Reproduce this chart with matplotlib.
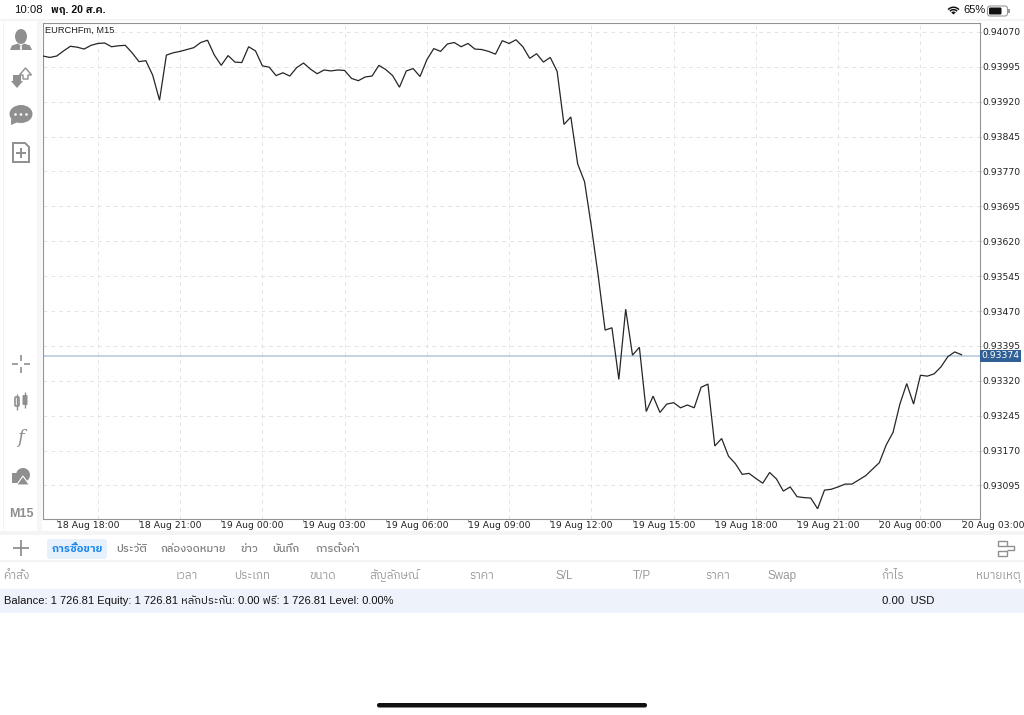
import matplotlib
matplotlib.use("Agg")
import matplotlib.pyplot as plt
from matplotlib.patches import Rectangle, FancyBboxPatch, Circle, Polygon, Wedge, Ellipse
from matplotlib.ticker import FixedLocator, FixedFormatter

# EURCHFm M15 close prices (one value per bar)
closes = [
    0.94018, 0.94015, 0.94018, 0.94029, 0.94039, 0.94037, 0.94033, 0.94041, 0.94045, 0.94046,
    0.94038, 0.94040, 0.94041, 0.94025, 0.94006, 0.94008, 0.93977, 0.93923, 0.94020, 0.94025,
    0.94028, 0.94032, 0.94036, 0.94047, 0.94052, 0.94020, 0.93998, 0.94019, 0.94005, 0.94004,
    0.94038, 0.94029, 0.93997, 0.93994, 0.93976, 0.93982, 0.93975, 0.93993, 0.94003, 0.93990,
    0.93980, 0.93988, 0.93986, 0.93988, 0.93987, 0.93970, 0.93965, 0.93973, 0.93975, 0.93998,
    0.93989, 0.93976, 0.93951, 0.93986, 0.93991, 0.93974, 0.94010, 0.94034, 0.94028, 0.94044,
    0.94047, 0.94038, 0.94045, 0.94033, 0.94032, 0.94028, 0.94022, 0.94051, 0.94045, 0.94053,
    0.94038, 0.94013, 0.94023, 0.94005, 0.94015, 0.93985, 0.93871, 0.93887, 0.93786, 0.93748,
    0.93651, 0.93545, 0.93429, 0.93434, 0.93323, 0.93474, 0.93375, 0.93392, 0.93254, 0.93287,
    0.93252, 0.93270, 0.93273, 0.93262, 0.93268, 0.93262, 0.93306, 0.93313, 0.93180, 0.93196,
    0.93158, 0.93142, 0.93119, 0.93121, 0.93110, 0.93100, 0.93123, 0.93109, 0.93083, 0.93092,
    0.93071, 0.93069, 0.93068, 0.93045, 0.93085, 0.93087, 0.93092, 0.93098, 0.93098, 0.93107,
    0.93116, 0.93130, 0.93144, 0.93182, 0.93209, 0.93270, 0.93314, 0.93270, 0.93332, 0.93330,
    0.93335, 0.93350, 0.93372, 0.93382, 0.93376,
]
bid = 0.93374

price_ticks = [0.94070, 0.93995, 0.93920, 0.93845, 0.93770, 0.93695, 0.93620,
               0.93545, 0.93470, 0.93395, 0.93320, 0.93245, 0.93170, 0.93095]
time_ticks = [2, 14, 26, 38, 50, 62, 74, 86, 98, 110, 122, 134]
time_labels = ["18 Aug 18:00", "18 Aug 21:00", "19 Aug 00:00", "19 Aug 03:00",
               "19 Aug 06:00", "19 Aug 09:00", "19 Aug 12:00", "19 Aug 15:00",
               "19 Aug 18:00", "19 Aug 21:00", "20 Aug 00:00", "20 Aug 03:00"]
grid_bars = list(range(2, 135, 6))

tab_labels = ["การซื้อขาย", "ประวัติ", "กล่องจดหมาย", "ข่าว", "บันทึก", "การตั้งค่า"]
tab_x = [52, 116, 161, 240, 272, 316]
col_labels = ["คำสั่ง", "เวลา", "ประเภท", "ขนาด", "สัญลักษณ์", "ราคา", "S/L", "T/P", "ราคา", "Swap", "กำไร", "หมายเหตุ"]
col_x = [3, 176, 234, 309, 369, 469, 555, 633, 705, 767, 881, 976]

THAI = ["Liberation Sans", "IBM Plex Sans Thai", "DejaVu Sans"]
ICON = "#8f8f8f"
W, H = 1024, 715

fig = plt.figure(figsize=(W / 100, H / 100), dpi=100, facecolor="white")

# whole page in pixel coordinates, for the app chrome around the chart
ui = fig.add_axes([0, 0, 1, 1], zorder=0)
ui.set_xlim(0, W)
ui.set_ylim(H, 0)
ui.axis("off")


def box(x, y, w, h, color, **kw):
    ui.add_patch(Rectangle((x, y), w, h, facecolor=color, edgecolor="none", **kw))


def rbox(x, y, w, h, r, color, **kw):
    ui.add_patch(FancyBboxPatch((x, y), w, h, boxstyle=f"round,pad=0,rounding_size={r}",
                                facecolor=color, edgecolor=kw.pop("ec", "none"), **kw))


def line(xs, ys, color=ICON, lw=1.0):
    ui.plot(xs, ys, color=color, lw=lw, solid_capstyle="butt")


def label(x, y, s, size=8.0, color="#111111", **kw):
    kw.setdefault("va", "center")
    ui.text(x, y, s, fontsize=size, color=color, family=THAI, **kw)


# status bar
label(14, 10, "10:08", 8.2)
label(51, 10, "พฤ. 20 ส.ค.", 7.6, fontweight="bold")
label(963, 10, "65%", 8.0)
for r in (8, 5.6):
    ui.add_patch(Wedge((953.5, 14.5), r, 222, 318, width=1.5, facecolor="#111111"))
ui.add_patch(Wedge((953.5, 14.5), 3, 222, 318, facecolor="#111111"))
rbox(987.5, 6, 20, 10, 2.5, "white", ec="#999999", lw=0.8)
rbox(989, 7.5, 12.5, 7, 1.2, "#111111")
box(1008, 9, 1.5, 4, "#999999")

# toolbar / panel separators
box(0, 19, W, 1.5, "#f4f4f4")
box(3, 21, 1.2, 510, "#f2f2f2")
box(37, 21, 5, 510, "#f6f6f6")
box(0, 531, W, 4, "#f4f4f4")
box(0, 560, W, 2, "#f4f4f4")
box(0, 589, W, 24, "#eef2fa")

# toolbar icons
ui.add_patch(Ellipse((21, 36.5), 12, 15, facecolor=ICON))
ui.add_patch(Polygon([(10, 50), (12, 45.5), (18, 43.5), (21, 46), (24, 43.5), (30, 45.5), (32, 50)],
                     closed=True, facecolor=ICON))
line([21, 21], [46, 50], "white", 1.2)
ui.add_patch(Polygon([(13, 75), (21, 75), (21, 81), (23, 81), (17, 88), (11, 81), (13, 81)],
                     closed=True, facecolor=ICON))
ui.add_patch(Polygon([(25.5, 68), (31.5, 75), (28, 75), (28, 79), (23, 79), (23, 75), (19.5, 75)],
                     closed=True, facecolor="white", edgecolor=ICON, lw=1))
ui.add_patch(Ellipse((21, 114), 23, 18, facecolor=ICON))
ui.add_patch(Polygon([(11, 119), (11, 125), (18, 122)], closed=True, facecolor=ICON))
for dx in (15.5, 21, 26.5):
    ui.add_patch(Circle((dx, 114.5), 1.3, facecolor="white"))
ui.add_patch(Polygon([(13, 143), (25, 143), (29, 147), (29, 162), (13, 162)], closed=True,
                     facecolor="white", edgecolor=ICON, lw=1.4))
line([16, 26], [153, 153], ICON, 1.4)
line([21, 21], [148, 158], ICON, 1.4)
line([12, 18], [364, 364], ICON, 1.2)
line([24, 30], [364, 364], ICON, 1.2)
line([21, 21], [355, 361], ICON, 1.2)
line([21, 21], [367, 373], ICON, 1.2)
line([17, 17], [394, 410], ICON, 1)
rbox(15, 397, 4, 9, 1, "white", ec=ICON, lw=1.2)
line([25, 25], [392, 408], ICON, 1)
rbox(22.5, 395, 5, 10, 1, ICON)
ui.text(20.5, 438, "f", fontsize=13, style="italic", family="DejaVu Serif", color=ICON, ha="center", va="center")
ui.add_patch(Circle((23, 475), 7, facecolor=ICON))
box(12, 473, 9, 10, ICON)
ui.add_patch(Polygon([(23, 476), (29.5, 485), (16.5, 485)], closed=True, facecolor=ICON, edgecolor="white", lw=0.8))
label(21, 514, "M15", 9, ICON, ha="center", fontweight="bold")

# tab strip
line([13, 29], [548, 548], "#888888", 1.2)
line([21, 21], [540, 556], "#888888", 1.2)
rbox(47, 539, 60, 20, 3, "#e7f1fb")
for i, (tx, s) in enumerate(zip(tab_x, tab_labels)):
    if i == 0:
        label(tx, 549, s, 8.0, "#1a86f0", fontweight="bold")
    else:
        label(tx, 549, s, 8.0, "#808080", fontweight="medium")
ui.add_patch(Rectangle((998, 541), 9, 4.5, facecolor="white", edgecolor=ICON, lw=1))
ui.add_patch(Rectangle((998, 551), 9, 4.5, facecolor="white", edgecolor=ICON, lw=1))
line([1007, 1014, 1014, 1007], [546, 546, 550, 550], ICON, 1)

# order table header and account row
for cx, s in zip(col_x, col_labels):
    label(cx, 576, s, 8.4, "#9a9a9a")
label(4, 601, "Balance: 1 726.81 Equity: 1 726.81 หลักประกัน: 0.00 ฟรี: 1 726.81 Level: 0.00%", 8.05)
label(882, 601, "0.00  USD", 8.2)

# home indicator
rbox(377, 703, 270, 4.5, 2.2, "#111111")

# the chart itself: x is the bar number, 6.855 px per bar
ax = fig.add_axes([43 / W, 1 - 519 / H, 937 / W, 496 / H], zorder=1)
ax.set_xlim(0, 937 / 6.855)
ax.set_ylim(0.93023, 0.94089)
ax.patch.set_alpha(0)
ax.plot(range(len(closes)), closes, color="#262626", lw=0.9, solid_joinstyle="miter", zorder=3)
ax.axhline(bid, color="#b4c8da", lw=1.1, zorder=2)

ax.xaxis.set_major_locator(FixedLocator(time_ticks))
ax.xaxis.set_major_formatter(FixedFormatter(time_labels))
ax.xaxis.set_minor_locator(FixedLocator(grid_bars))
ax.yaxis.set_major_locator(FixedLocator(price_ticks))
ax.yaxis.set_major_formatter(FixedFormatter([f"{p:.5f}" for p in price_ticks]))
ax.yaxis.tick_right()
ax.grid(True, which="major", axis="y", color="#e4e4e4", lw=0.7, ls=(0, (4, 4)))
ax.grid(True, which="minor", axis="x", color="#e4e4e4", lw=0.7, ls=(0, (4, 4)))
ax.tick_params(axis="x", which="major", length=2, width=0.6, color="#8c8c8c", pad=-0.5, labelsize=6.7, labelcolor="#222222")
ax.tick_params(axis="x", which="minor", length=0)
ax.tick_params(axis="y", length=1, width=0.6, color="#8c8c8c", pad=0.5, labelsize=6.7, labelcolor="#222222")
for t in ax.get_xticklabels():
    t.set_ha("left")
for s in ax.spines.values():
    s.set_color("#939393")
    s.set_linewidth(0.8)

ax.text(0.002, 0.994, "EURCHFm, M15", transform=ax.transAxes, fontsize=6.7, color="#222222", va="top", ha="left",
        family="Liberation Sans")
ax.text(1.0015, bid, f"{bid:.5f}", transform=ax.get_yaxis_transform(), fontsize=6.7, color="white",
        va="center", ha="left", zorder=5, clip_on=False,
        bbox=dict(facecolor="#2f5f95", edgecolor="none", boxstyle="square,pad=0.15"))

fig.savefig("out.png", dpi=100)
